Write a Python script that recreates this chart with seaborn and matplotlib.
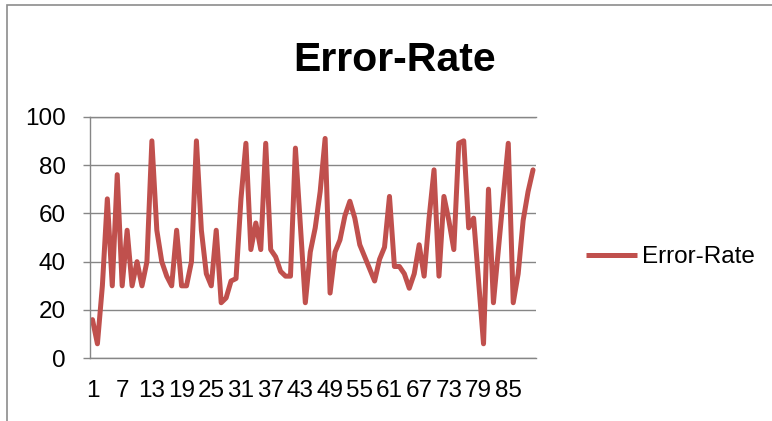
import matplotlib
matplotlib.use("Agg")
import matplotlib.pyplot as plt
from matplotlib.patches import Rectangle
from matplotlib.ticker import FixedLocator, MultipleLocator
import seaborn as sns
import pandas as pd

# values
error_rate = [
    16, 6, 30, 66, 30, 76, 30, 53, 30, 40,
    30, 40, 90, 53, 40, 34, 30, 53, 30, 30,
    40, 90, 53, 35, 30, 53, 23, 25, 32, 33,
    66, 89, 45, 56, 45, 89, 45, 42, 36, 34,
    34, 87, 55, 23, 44, 54, 69, 91, 27, 44,
    49, 59, 65, 58, 47, 42, 37, 32, 41, 46,
    67, 38, 38, 35, 29, 35, 47, 34, 58, 78,
    34, 67, 57, 45, 89, 90, 54, 58, 32, 6,
    70, 23, 45, 67, 89, 23, 35, 57, 69, 78,
]
sample = list(range(1, len(error_rate) + 1))
x_labels = list(range(1, len(error_rate) + 1, 6))
y_labels = [0, 20, 40, 60, 80, 100]
series_name = "Error-Rate"

df = pd.DataFrame({"sample": sample, series_name: error_rate})

sns.set_style("white")
plt.rcParams["font.family"] = ["Liberation Sans", "DejaVu Sans"]
plt.rcParams["text.color"] = "black"

W, H = 772, 421
fig = plt.figure(figsize=(W / 100, H / 100), dpi=100)
left, right, top, bottom = 90, 535.5, 116.7, 358.3
ax = fig.add_axes([left / W, 1 - bottom / H, (right - left) / W, (bottom - top) / H])

grey = "#868686"
red = "#C0504D"
fs = 17.5

sns.lineplot(data=df, x="sample", y=series_name, ax=ax, color=red,
             linewidth=3.6, label=series_name,
             solid_joinstyle="round", solid_capstyle="round")

ax.set_xlim(0.5, len(error_rate) + 0.5)
ax.set_ylim(0, 100)
ax.set_xlabel("")
ax.set_ylabel("")

ax.xaxis.set_major_locator(FixedLocator(x_labels))
ax.set_xticklabels([str(v) for v in x_labels])
ax.xaxis.set_minor_locator(MultipleLocator(1, offset=0.5))
ax.set_yticks(y_labels)
ax.set_yticklabels([str(v) for v in y_labels])

ax.tick_params(axis="x", which="major", length=0, pad=15.5, labelsize=fs, labelcolor="black")
ax.tick_params(axis="x", which="minor", length=5, width=1, color=grey, direction="out")
ax.tick_params(axis="y", which="major", length=5.3, width=1, color=grey, pad=12,
               labelsize=fs, labelcolor="black", left=True)

ax.grid(axis="y", color=grey, linewidth=1)
ax.set_axisbelow(True)
for side in ["left", "bottom", "top"]:
    ax.spines[side].set_color(grey)
    ax.spines[side].set_linewidth(1)
ax.spines["right"].set_visible(False)

# legend to the right of the plot area
leg = ax.legend(loc="center left", bbox_to_anchor=(586 / W, 1 - 257 / H),
                bbox_transform=fig.transFigure, frameon=False, fontsize=fs,
                borderpad=0, borderaxespad=0, handlelength=2.1, handletextpad=0.2)
for line in leg.get_lines():
    line.set_linewidth(3.6)
    line.set_solid_capstyle("butt")
for t in leg.get_texts():
    t.set_color("black")

fig.text(394.8 / W, 1 - 70.7 / H, series_name, ha="center", va="baseline",
         fontsize=29.5, fontweight="bold", color="black")

# chart area border (only top and left edges fall inside the picture)
fig.add_artist(Rectangle((7 / W, -0.2), 1.2, 1.2 - 5 / H,
                         transform=fig.transFigure, fill=False,
                         edgecolor="#8c8c8c", linewidth=1.2, clip_on=False))

fig.savefig("out.png", dpi=100)
